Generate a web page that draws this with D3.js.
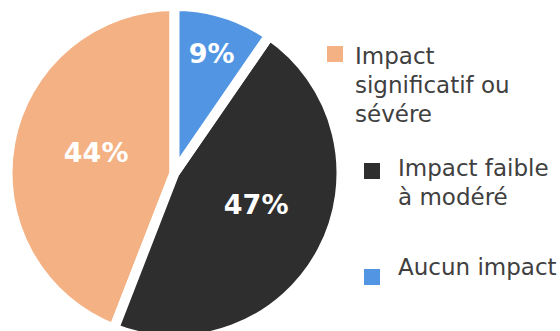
<!DOCTYPE html>
<html>
<head>
<meta charset="utf-8">
<script src="https://cdn.jsdelivr.net/npm/d3@7"></script>
<style>
  html, body { margin: 0; padding: 0; background: #fff; }
  svg { display: block; }
</style>
</head>
<body>
<script>
// ---- data ----
const categories = ["Impact significatif ou sévére", "Impact faible à modéré", "Aucun impact"];
const values = [44.1, 46.3, 9.6];
const labels = ["44%", "47%", "9%"];
const legendLines = [["Impact", "significatif ou", "sévére"], ["Impact faible", "à modéré"], ["Aucun impact"]];

// ---- layout / style ----
const W = 560, H = 331;
const colors = ["#F4B183", "#2E2E2E", "#5195E3"];
const cx = 174.5, cy = 173, R = 167, gap = 10;
const labelRadius = [81, 87.5, 125];
const labelAngleShift = [4, -6.8, 0]; // degrees
const legendLayout = [
  { sx: 327, sy: 46, tx: 355, ty: 64 },
  { sx: 364, sy: 163, tx: 398, ty: 176 },
  { sx: 364, sy: 269, tx: 398, ty: 275 }
];

const svg = d3.select("body").append("svg").attr("width", W).attr("height", H);

// slices run counter-clockwise from 12 o'clock in data order,
// so clockwise from the top they read: Aucun, faible, significatif
const pie = d3.pie().sort(null).startAngle(2 * Math.PI).endAngle(0);
const arcs = pie(values);
const arc = d3.arc().innerRadius(0).outerRadius(R);

const g = svg.append("g").attr("transform", `translate(${cx},${cy})`);
g.selectAll("path").data(arcs).join("path")
  .attr("d", arc)
  .attr("fill", (d, i) => colors[i])
  .attr("stroke", "#fff")
  .attr("stroke-width", gap)
  .attr("stroke-linejoin", "miter");

function labelPos(d, i) {
  const a = (d.startAngle + d.endAngle) / 2 + labelAngleShift[i] * Math.PI / 180;
  return [labelRadius[i] * Math.sin(a), -labelRadius[i] * Math.cos(a)];
}

g.selectAll("text").data(arcs).join("text")
  .attr("x", (d, i) => labelPos(d, i)[0])
  .attr("y", (d, i) => labelPos(d, i)[1])
  .attr("dy", "0.36em")
  .attr("text-anchor", "middle")
  .attr("font-family", "'DejaVu Sans', Verdana, sans-serif")
  .attr("font-weight", "bold")
  .attr("font-size", 27)
  .attr("fill", "#fff")
  .text((d, i) => labels[i]);

const leg = svg.append("g");
categories.forEach((c, i) => {
  const L = legendLayout[i];
  leg.append("rect").attr("x", L.sx).attr("y", L.sy).attr("width", 16).attr("height", 16).attr("fill", colors[i]);
  const t = leg.append("text")
    .attr("font-family", "'DejaVu Sans', Verdana, sans-serif")
    .attr("font-size", 23)
    .attr("fill", "#404040");
  legendLines[i].forEach((ln, j) => {
    t.append("tspan").attr("x", L.tx).attr("y", L.ty + j * 28.8).text(ln);
  });
});
</script>
</body>
</html>
